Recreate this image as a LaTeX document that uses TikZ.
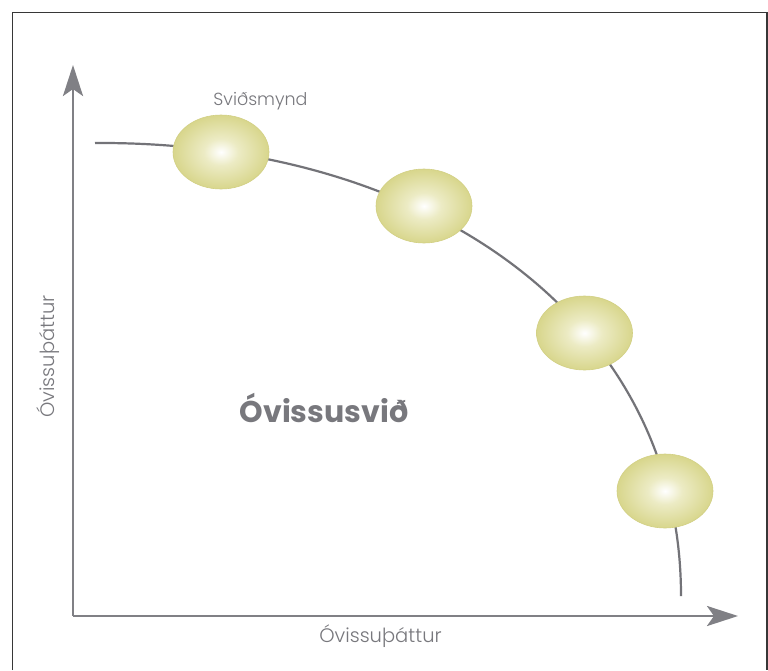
\documentclass[tikz,border=0pt]{standalone}
\usepackage{fontspec}
\setmainfont{Poppins}
\newfontfamily\lightfont{Poppins Light}
\usetikzlibrary{arrows.meta,shapes.geometric}
\definecolor{axisgrey}{RGB}{128,128,133}
\definecolor{curvegrey}{RGB}{115,115,120}
\definecolor{textgrey}{RGB}{120,120,125}
\definecolor{framegrey}{RGB}{55,55,55}
\definecolor{bubout}{RGB}{216,214,140}
\definecolor{bubmid}{RGB}{236,235,196}
\definecolor{bubedge}{RGB}{210,208,132}
\pgfdeclareradialshading{bubble}{\pgfpoint{0bp}{0bp}}{color(0bp)=(white); color(9bp)=(bubmid); color(25bp)=(bubout); color(50bp)=(bubout)}
\tikzset{
  axisline/.style={draw=axisgrey, line width=2.8pt, -{Stealth[length=31pt,width=20pt,inset=7pt]}},
  curveline/.style={draw=curvegrey, line width=2.2pt},
  bubblenode/.style={ellipse, shading=bubble, draw=bubedge, line width=0.6pt, minimum width=96pt, minimum height=74pt, inner sep=0pt},
  smalllabel/.style={font=\lightfont\fontsize{17.5}{20}\selectfont, text=textgrey, inner sep=0pt, anchor=base},
  axislabel/.style={font=\lightfont\fontsize{19.5}{22}\selectfont, text=textgrey, inner sep=0pt, anchor=base},
  biglabel/.style={font=\bfseries\fontsize{30}{34}\selectfont, text=textgrey, inner sep=0pt, anchor=base}
}
\begin{document}
\begin{tikzpicture}[x=1pt,y=-1pt]
\useasboundingbox (0,0) rectangle (768,670);
\fill[white] (0,0) rectangle (768,670);
% frame
\draw[framegrey, line width=1.5pt] (12.3,670) -- (12.3,12.3) -- (767,12.3) -- (767,670);
% axes
\coordinate (origin) at (73,616);
\coordinate (ytip) at (73,65);
\coordinate (xtip) at (738,616);
\draw[axisline] (origin) -- (ytip);
\draw[axisline] (origin) -- (xtip);
% curve
\coordinate (cs) at (95,143);
\coordinate (ce) at (681,596);
\draw[curveline] (cs) .. controls (430,141) and (681,320) .. (ce);
% scenarios
\node[bubblenode] (s1) at (221,152) {};
\node[bubblenode] (s2) at (424,206) {};
\node[bubblenode] (s3) at (584.5,333) {};
\node[bubblenode] (s4) at (665,491) {};
% labels
\node[smalllabel] (lscen) at (260.5,105) {Sviðsmynd};
\node[biglabel] (lspace) at (324,422) {Óvissusvið};
\node[axislabel] (lx) at (380.5,642) {Óvissuþáttur};
\node[axislabel, rotate=90] (ly) at (54,356.5) {Óvissuþáttur};
\end{tikzpicture}
\end{document}
